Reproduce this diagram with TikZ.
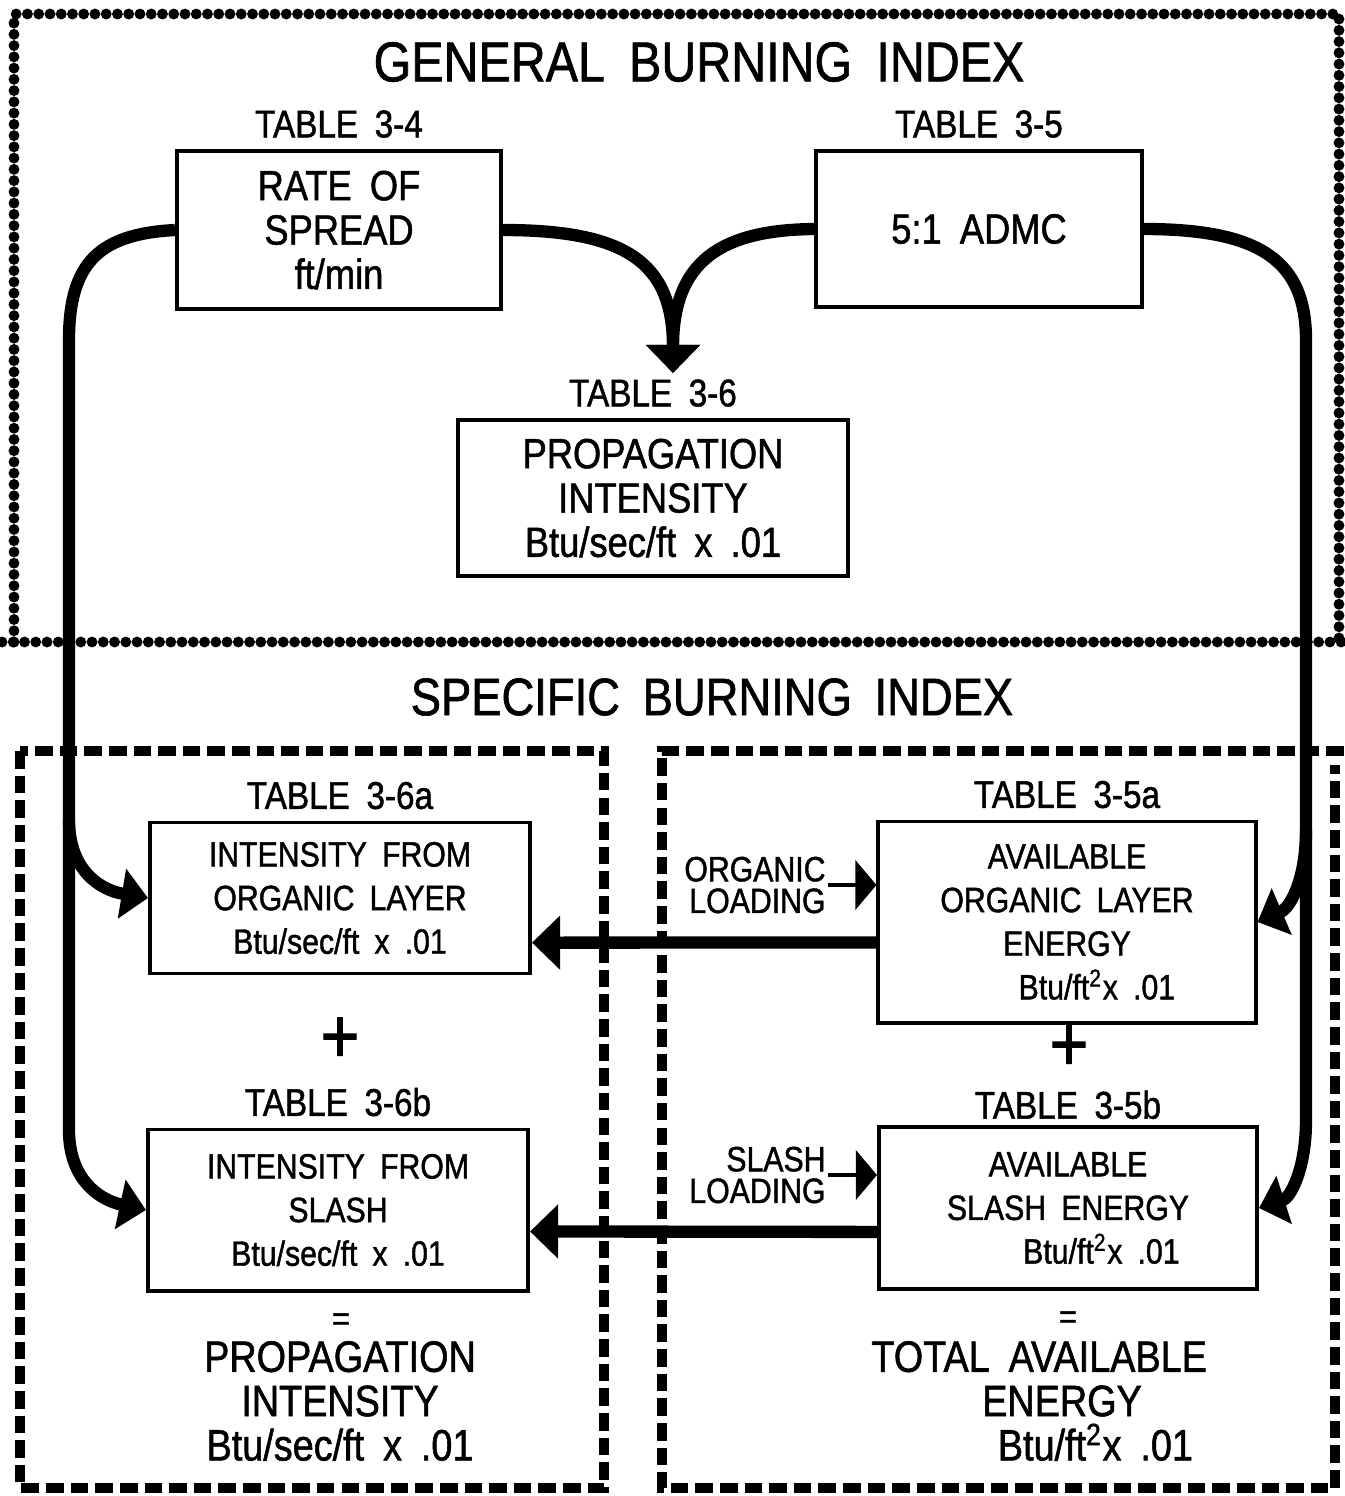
\documentclass[tikz,border=0pt]{standalone}
\usepackage{fontspec}
\setmainfont{Liberation Sans}[FakeStretch=0.86,WordSpace=1.8,FakeBold=1.2]
\usetikzlibrary{arrows.meta,positioning}

\begin{document}
\begin{tikzpicture}[
    x=0.01cm, y=-0.01cm,
    >={Triangle[length=7.5pt,width=14pt]},
    node distance=2.5pt,
    tablebox/.style={draw,line width=1.1pt,inner sep=0pt,align=center},
    tablename/.style={inner sep=0.5pt,font=\fontsize{11}{12}\selectfont},
    upper/.style={font=\fontsize{12}{12.6}\selectfont},
    lower/.style={font=\fontsize{10}{12.4}\selectfont},
    result/.style={align=center,font=\fontsize{12.5}{12.6}\selectfont},
    loadlabel/.style={align=right,inner sep=0.5pt,font=\fontsize{10}{9}\selectfont},
    sign/.style={inner sep=0pt},
    flow/.style={line width=3.5pt,->},
    feed/.style={line width=1pt,-{Triangle[length=6pt,width=14pt]}},
    genborder/.style={line width=3.1pt,line cap=round,dash pattern=on 0pt off 3.2pt},
    specborder/.style={line width=2.8pt,dash pattern=on 5pt off 2pt}
  ]
  \useasboundingbox (0,0) rectangle (1344,1496);

  % index borders
  \draw[genborder] (14,642) -- (14,14) -- (1339,14) -- (1339,642);
  \draw[genborder] (2,642) -- (1344,642);
  \draw[specborder] (20,751) rectangle (604,1488);
  \draw[specborder] (1344,751) -- (662,751) -- (662,1488) -- (1335,1488) -- (1335,765);

  % general burning index
  \node[font=\fontsize{16}{16}\selectfont] (general) at (699,62) {GENERAL BURNING INDEX};
  \node[tablebox,upper,minimum width=3.24cm,minimum height=1.58cm] (ros) at (339,230)
    {RATE OF\\SPREAD\\ft/min};
  \node[tablebox,upper,minimum width=3.26cm,minimum height=1.56cm] (admc) at (979,229)
    {5:1 ADMC};
  \node[tablebox,upper,minimum width=3.89cm,minimum height=1.56cm] (prop) at (653,498)
    {PROPAGATION\\INTENSITY\\Btu/sec/ft x .01};
  \node[tablename,above=of ros] (t34) {TABLE 3-4};
  \node[tablename,above=of admc] (t35) {TABLE 3-5};
  \node[tablename,above=of prop] (t36) {TABLE 3-6};
  \coordinate (merge) at (673,373);

  \draw[flow,>={Triangle[length=8pt,width=15pt]}] (ros.east) .. controls (625,230) and (673,262) .. (merge);
  \draw[flow,>={Triangle[length=8pt,width=15pt]}] (admc.west) .. controls (720,230) and (673,262) .. (merge);

  % specific burning index
  \node[font=\fontsize{15}{15}\selectfont] (specific) at (712,697) {SPECIFIC BURNING INDEX};

  \node[tablebox,lower,minimum width=3.80cm,minimum height=1.51cm] (iol) at (340,898)
    {INTENSITY FROM\\ORGANIC LAYER\\Btu/sec/ft x .01};
  \node[tablebox,lower,minimum width=3.80cm,minimum height=1.61cm] (isl) at (338,1210)
    {INTENSITY FROM\\SLASH\\Btu/sec/ft x .01};
  \node[tablebox,lower,minimum width=3.77cm,minimum height=2.01cm] (aole) at (1067,922)
    {AVAILABLE\\ORGANIC LAYER\\ENERGY\\\hspace*{17pt}Btu/ft\textsuperscript{2}x .01};
  \node[tablebox,lower,minimum width=3.78cm,minimum height=1.62cm] (ase) at (1068,1208)
    {AVAILABLE\\SLASH ENERGY\\\hspace*{19pt}Btu/ft\textsuperscript{2}x .01};
  \node[tablename,above=of iol] (t36a) {TABLE 3-6a};
  \node[tablename,above=of isl] (t36b) {TABLE 3-6b};
  \node[tablename,above=of aole] (t35a) {TABLE 3-5a};
  \node[tablename,above=1pt of ase] (t35b) {TABLE 3-5b};

  \node[sign,font=\fontsize{22}{22}\selectfont] (plusl) at (340,1040) {+};
  \node[sign,font=\fontsize{22}{22}\selectfont] (plusr) at (1069,1048) {+};
  \node[sign,font=\fontsize{10}{10}\selectfont] (eql) at (341,1322) {=};
  \node[sign,font=\fontsize{10}{10}\selectfont] (eqr) at (1068,1320) {=};

  \node[result] (propint) at (340,1401) {PROPAGATION\\INTENSITY\\Btu/sec/ft x .01};
  \node[result] (totenergy) at (1062,1401)
    {TOTAL AVAILABLE\hspace*{13pt}\\ENERGY\\\hspace*{19pt}Btu/ft\textsuperscript{2}x .01};

  \node[loadlabel,anchor=east] (orgload) at (828,885) {ORGANIC\\LOADING};
  \node[loadlabel,anchor=east] (slashload) at (828,1175) {SLASH\\LOADING};
  \draw[feed] (orgload.east) -- (orgload.east -| aole.west);
  \draw[feed] (slashload.east) -- (slashload.east -| ase.west);

  % flows between the indices
  \coordinate (lsplit) at (69,820);
  \coordinate (rsplit) at (1306,830);
  \draw[flow] (ros.west) .. controls (100,234) and (69,262) .. (69,340)
    -- (69,1130) .. controls (69,1180) and (100,1200) .. (isl.west);
  \draw[flow] (lsplit) .. controls (69,870) and (100,890) .. (iol.west);
  \draw[flow] (admc.east) .. controls (1262,229) and (1306,262) .. (1306,340)
    -- (1306,1120) .. controls (1306,1170) and (1290,1198) .. (ase.east);
  \draw[flow] (rsplit) .. controls (1306,880) and (1290,908) .. (aole.east);

  \draw[flow,>={Triangle[length=8pt,width=15pt]}] ([yshift=-5.8pt]aole.west) -- ([yshift=-12.7pt]iol.east);
  \draw[flow,>={Triangle[length=8pt,width=15pt]}] ([yshift=-6.8pt]ase.west) -- ([yshift=-6.1pt]isl.east);
\end{tikzpicture}
\end{document}
